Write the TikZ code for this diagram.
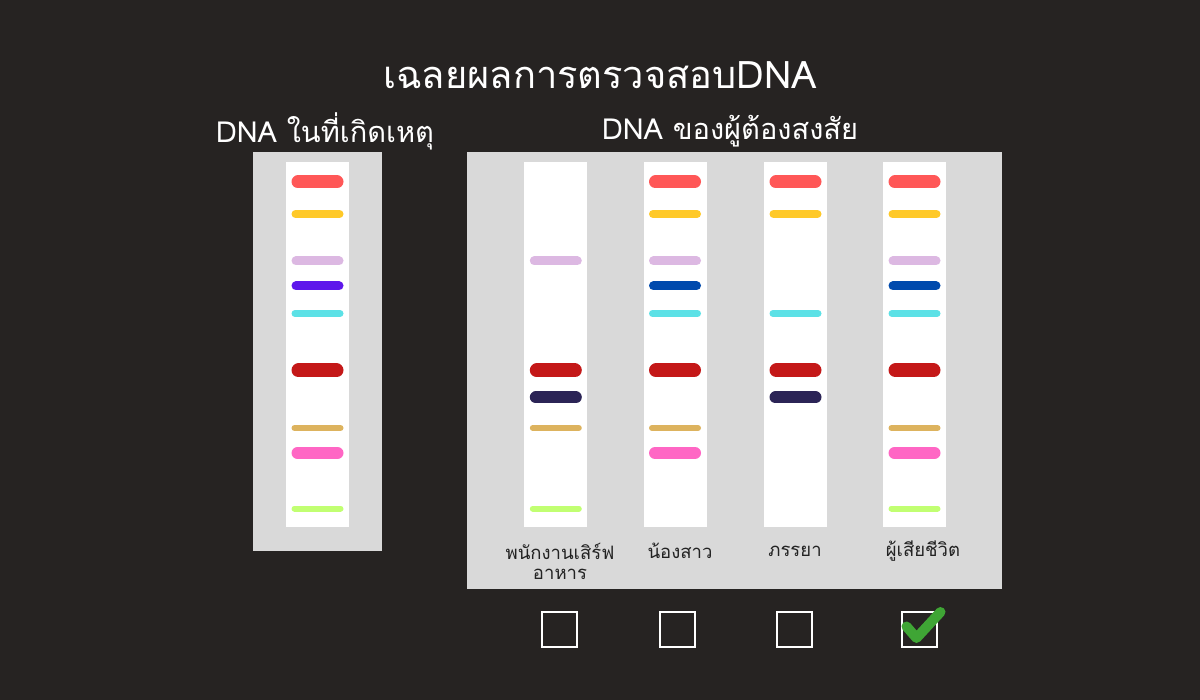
\documentclass[tikz,border=0pt]{standalone}
\usepackage{fontspec}
\newfontfamily\thaifont[Script=Thai]{Loma}
\definecolor{bgc}{HTML}{262322}
\definecolor{panelc}{HTML}{D9D9D9}
\definecolor{bred}{HTML}{FF5757}
\definecolor{byellow}{HTML}{FFC928}
\definecolor{blav}{HTML}{DCB8E2}
\definecolor{bpurple}{HTML}{5E17EB}
\definecolor{bblue}{HTML}{004AAD}
\definecolor{bcyan}{HTML}{5CE1E6}
\definecolor{bdred}{HTML}{C41818}
\definecolor{bnavy}{HTML}{2B2456}
\definecolor{btan}{HTML}{DDB35E}
\definecolor{bpink}{HTML}{FF66C4}
\definecolor{blime}{HTML}{C1FF72}
\definecolor{labc}{HTML}{222222}
\definecolor{checkc}{HTML}{3FA535}
\newcommand\dnaband[4]{% left x, y, thickness, colour
  \draw[line width=#3pt, line cap=round, draw=#4] ({#1+#3/2},#2) -- ({#1+52-#3/2},#2);}
\newcommand\fullstrip[1]{%
  \dnaband{#1}{182}{13}{bred}
  \dnaband{#1}{214}{8}{byellow}
  \dnaband{#1}{261}{9}{blav}
  \dnaband{#1}{286}{9}{bblue}
  \dnaband{#1}{313.5}{7}{bcyan}
  \dnaband{#1}{370.5}{14}{bdred}
  \dnaband{#1}{428}{6}{btan}
  \dnaband{#1}{453}{12}{bpink}
  \dnaband{#1}{508.5}{6}{blime}}
\begin{document}
\begin{tikzpicture}[x=1pt,y=-1pt,
  panel/.style={fill=panelc},
  stripbox/.style={fill=white},
  title/.style={text=white, font=\thaifont\fontsize{38}{42}\selectfont, inner sep=0pt},
  subtitle/.style={text=white, font=\thaifont\fontsize{29}{33}\selectfont, inner sep=0pt},
  lab/.style={text=labc, font=\thaifont\fontsize{18.5}{20}\selectfont, align=center, inner sep=0pt},
  cbox/.style={draw=white, line width=2pt, minimum size=35pt, inner sep=0pt}]
\useasboundingbox (0,0) rectangle (1200,700);
\fill[bgc] (0,0) rectangle (1200,700);

% titles
\node[title] (t) at (600,75) {เฉลยผลการตรวจสอบDNA};
\node[subtitle] (s1) at (325,131) {DNA ในที่เกิดเหตุ};
\node[subtitle] (s2) at (730,131) {DNA ของผู้ต้องสงสัย};

% crime scene panel
\fill[panel] (253,152) rectangle (382,550.5);
\fill[stripbox] (286,162.5) rectangle (349,527);
\dnaband{291.5}{182}{13}{bred}
\dnaband{291.5}{214}{8}{byellow}
\dnaband{291.5}{261}{9}{blav}
\dnaband{291.5}{286}{9}{bpurple}
\dnaband{291.5}{313.5}{7}{bcyan}
\dnaband{291.5}{370.5}{14}{bdred}
\dnaband{291.5}{428}{6}{btan}
\dnaband{291.5}{453}{12}{bpink}
\dnaband{291.5}{508.5}{6}{blime}

% suspects panel
\fill[panel] (467.3,152.3) rectangle (1001.5,589.3);
\foreach \sx in {524.3,643.5,764,883}
  \fill[stripbox] (\sx,162.5) rectangle (\sx+63,527);

% strip 1: waiter
\dnaband{529.8}{261}{9}{blav}
\dnaband{529.8}{370.5}{14}{bdred}
\dnaband{529.8}{397.5}{12}{bnavy}
\dnaband{529.8}{428}{6}{btan}
\dnaband{529.8}{508.5}{6}{blime}
% strip 2: sister
\dnaband{649}{182}{13}{bred}
\dnaband{649}{214}{8}{byellow}
\dnaband{649}{261}{9}{blav}
\dnaband{649}{286}{9}{bblue}
\dnaband{649}{313.5}{7}{bcyan}
\dnaband{649}{370.5}{14}{bdred}
\dnaband{649}{428}{6}{btan}
\dnaband{649}{453}{12}{bpink}
% strip 3: wife
\dnaband{769.5}{182}{13}{bred}
\dnaband{769.5}{214}{8}{byellow}
\dnaband{769.5}{313.5}{7}{bcyan}
\dnaband{769.5}{370.5}{14}{bdred}
\dnaband{769.5}{397.5}{12}{bnavy}
% strip 4: deceased
\fullstrip{888.5}

% labels
\node[lab] (l1) at (560,561) {พนักงานเสิร์ฟ\\อาหาร};
\node[lab] (l2) at (680,551) {น้องสาว};
\node[lab] (l3) at (795,551) {ภรรยา};
\node[lab] (l4) at (923,551) {ผู้เสียชีวิต};

% checkboxes
\node[cbox] (c1) at (559.5,629.8) {};
\node[cbox] (c2) at (677,629.8) {};
\node[cbox] (c3) at (794.5,629.8) {};
\node[cbox] (c4) at (919.5,629.8) {};
\coordinate (k1) at (906.5,626.5);
\coordinate (k2) at (916.5,638);
\coordinate (k3) at (940.5,612);
\draw[checkc, line width=10pt, line cap=round, line join=round] (k1) -- (k2) -- (k3);
\end{tikzpicture}
\end{document}
